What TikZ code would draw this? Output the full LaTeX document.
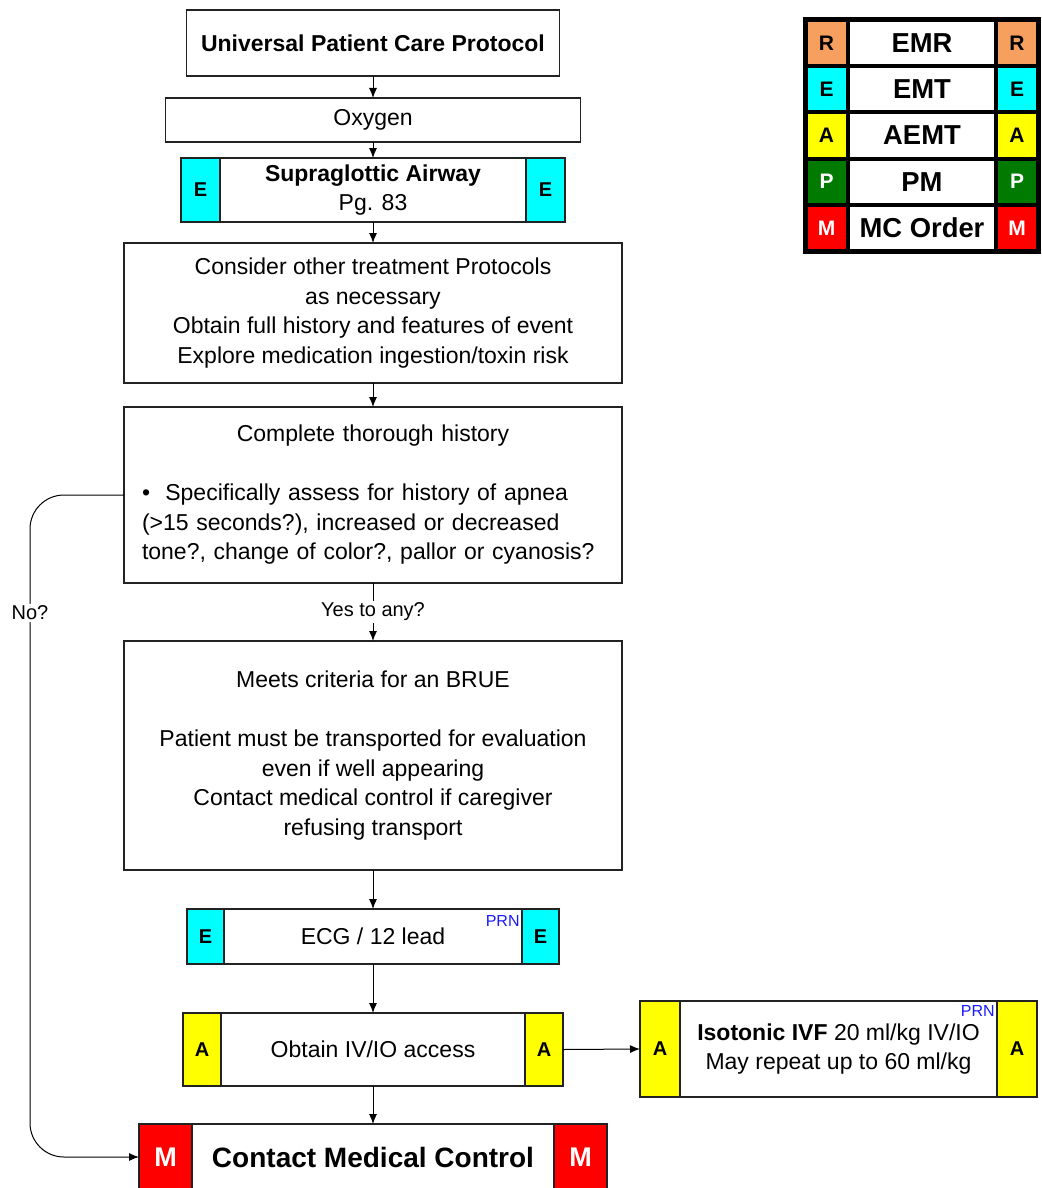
\documentclass[tikz,border=0pt]{standalone}
\usepackage{fontspec}
\setmainfont{Liberation Sans}
\usepackage{tikz}
\usetikzlibrary{positioning, arrows.meta}
\definecolor{tagR}{HTML}{F79F5F}
\definecolor{tagE}{HTML}{00FFFF}
\definecolor{tagA}{HTML}{FFFF00}
\definecolor{tagP}{HTML}{007A00}
\definecolor{tagM}{HTML}{FF0000}
\definecolor{prnBlue}{HTML}{1A1AFF}
\definecolor{edge}{HTML}{222222}

\begin{document}
\begin{tikzpicture}[x=0.5pt, y=-0.5pt,
box/.style={draw=edge, line width=0.8pt, fill=white, outer sep=0pt, inner sep=2pt, align=center, font=\fontsize{11.5}{14.75}\selectfont},
tagbox/.style={draw=edge, line width=0.8pt, outer sep=0pt, inner sep=0pt, font=\fontsize{10}{12}\selectfont\bfseries},
prn/.style={font=\fontsize{8}{9}\selectfont, text=prnBlue, inner sep=1pt},
lbl/.style={font=\fontsize{10}{12}\selectfont, fill=white, inner sep=1pt},
arr/.style={-{Latex[length=5pt,width=4pt]}, line width=0.5pt},
lgcell/.style={draw=black, line width=2pt, outer sep=0pt, inner sep=0pt, minimum height=23.1pt, font=\fontsize{10.5}{12}\selectfont\bfseries}]
\useasboundingbox (0,0) rectangle (1041,1188);

\node[box, minimum width=186.5pt, minimum height=33pt, font=\fontsize{11.5}{14.75}\selectfont\bfseries] (upcp) at (373,43) {Universal Patient Care Protocol};
\node[box, minimum width=207.5pt, minimum height=22pt] (oxy) at (373,120) {Oxygen};
\node[box, minimum width=192pt, minimum height=32pt] (sga) at (373,190) {\textbf{Supraglottic Airway}\\Pg. 83};
\node[tagbox, fill=tagE, minimum width=19.5pt, minimum height=32pt, anchor=west] (sgaL) at (sga.west) {E};
\node[tagbox, fill=tagE, minimum width=19.5pt, minimum height=32pt, anchor=east] (sgaR) at (sga.east) {E};
\node[box, minimum width=249pt, minimum height=70pt] (cons) at (373,313) {Consider other treatment Protocols\\as necessary\\Obtain full history and features of event\\Explore medication ingestion/toxin risk};
\node[box, minimum width=249pt, minimum height=88pt, text width=231pt, inner xsep=9pt, align=left] (hist) at (373,495) {\makebox[\linewidth]{Complete thorough history}\\[14.75pt]\textbullet\ \ Specifically assess for history of apnea\\(>15 seconds?), increased or decreased\\tone?, change of color?, pallor or cyanosis?};
\node[box, minimum width=249pt, minimum height=114.5pt] (brue) at (373,755.5) {Meets criteria for an BRUE\\[14.75pt]Patient must be transported for evaluation\\even if well appearing\\Contact medical control if caregiver\\refusing transport};
\node[box, minimum width=186pt, minimum height=27.5pt] (ecg) at (373,936.5) {ECG / 12 lead};
\node[tagbox, fill=tagE, minimum width=18.5pt, minimum height=27.5pt, anchor=west] (ecgL) at (ecg.west) {E};
\node[tagbox, fill=tagE, minimum width=18.5pt, minimum height=27.5pt, anchor=east] (ecgR) at (ecg.east) {E};
\node[prn, anchor=north east, yshift=-2pt] (ecgPrn) at (ecgR.north west) {PRN};
\node[box, minimum width=190pt, minimum height=36.5pt] (iv) at (373,1049.5) {Obtain IV/IO access};
\node[tagbox, fill=tagA, minimum width=19pt, minimum height=36.5pt, anchor=west] (ivL) at (iv.west) {A};
\node[tagbox, fill=tagA, minimum width=19pt, minimum height=36.5pt, anchor=east] (ivR) at (iv.east) {A};
\node[box, minimum width=198.5pt, minimum height=48pt] (ivf) at (838.5,1049) {\textbf{Isotonic IVF} 20 ml/kg IV/IO\\May repeat up to 60 ml/kg};
\node[tagbox, fill=tagA, minimum width=20pt, minimum height=48pt, anchor=west] (ivfL) at (ivf.west) {A};
\node[tagbox, fill=tagA, minimum width=20pt, minimum height=48pt, anchor=east] (ivfR) at (ivf.east) {A};
\node[prn, anchor=north east, yshift=-1pt] (ivfPrn) at (ivfR.north west) {PRN};
\node[box, minimum width=234pt, minimum height=33pt, font=\fontsize{14}{16}\selectfont\bfseries] (cmc) at (373,1157) {Contact Medical Control};
\node[tagbox, fill=tagM, text=white, minimum width=26.5pt, minimum height=33pt, anchor=west, font=\fontsize{13.5}{16}\selectfont\bfseries] (cmcL) at (cmc.west) {M};
\node[tagbox, fill=tagM, text=white, minimum width=26.5pt, minimum height=33pt, anchor=east, font=\fontsize{13.5}{16}\selectfont\bfseries] (cmcR) at (cmc.east) {M};

\draw[arr] (upcp) -- (oxy);
\draw[arr] (oxy) -- (sga);
\draw[arr] (sga) -- (cons);
\draw[arr] (cons) -- (hist);
\draw[arr] (hist) -- node[lbl] {Yes to any?} (brue);
\draw[arr] (brue) -- (ecg);
\draw[arr] (ecg) -- (iv);
\draw[arr] (iv) -- (cmc);
\draw[arr] (iv.east) -- (ivf.west);
\coordinate (noBend) at (30,613);
\draw[arr, rounded corners=17pt] (hist.west) -| (noBend) node[lbl] {No?} |- (cmc.west);

\foreach \lt/\lw/\lc/\tc [count=\i] in {R/EMR/tagR/black, E/EMT/tagE/black, A/AEMT/tagA/black, P/PM/tagP/white, M/MC Order/tagM/white} {
\node[lgcell, minimum width=21.5pt, fill=\lc, text=\tc] (lgL\i) at (826.5,{20+46.2*(\i-0.5)}) {\lt};
\node[lgcell, minimum width=74pt, fill=white, font=\fontsize{13.7}{16}\selectfont\bfseries, right=0pt of lgL\i] (lgM\i) {\lw};
\node[lgcell, minimum width=21pt, fill=\lc, text=\tc, right=0pt of lgM\i] (lgR\i) {\lt};
}
\draw[line width=2.5pt] (lgL1.north west) rectangle (lgR5.south east);
\end{tikzpicture}
\end{document}
